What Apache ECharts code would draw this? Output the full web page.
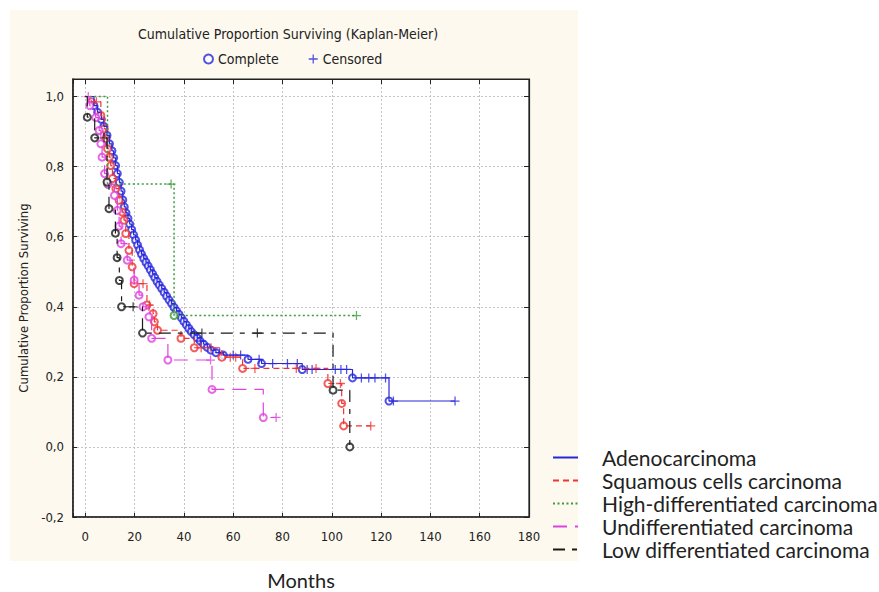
<!DOCTYPE html>
<html>
<head>
<meta charset="utf-8">
<script src="https://cdn.jsdelivr.net/npm/echarts@6/dist/echarts.min.js"></script>
<style>
  html, body { margin: 0; padding: 0; background: #fff; }
  #chart { width: 879px; height: 592px; }
</style>
</head>
<body>
<div id="chart"></div>
<script>
// groups (legend order)
const groupNames = [
  'Adenocarcinoma',
  'Squamous cells carcinoma',
  'High-differentiated carcinoma',
  'Undifferentiated carcinoma',
  'Low differentiated carcinoma'
]

// [months, proportion surviving] at each death ("Complete") and each censored case
const adenoEvents = [
  [3.5, 0.974], [5, 0.955], [6.5, 0.935], [7.5, 0.915], [8.8, 0.889], [9.8, 0.865],
  [10.8, 0.845], [11.5, 0.825], [12.3, 0.803], [13, 0.78], [13.8, 0.755], [14.5, 0.73],
  [15.2, 0.705], [15.8, 0.685], [16.5, 0.668], [17.3, 0.652], [18, 0.636], [18.8, 0.62],
  [19.6, 0.605], [20.4, 0.59], [21.2, 0.576], [22, 0.562], [22.8, 0.55], [23.7, 0.538],
  [24.6, 0.527], [25.5, 0.516], [26.4, 0.505], [27.3, 0.494], [28.2, 0.483], [29.1, 0.472],
  [30, 0.462], [31, 0.452], [32, 0.441], [33, 0.43], [34, 0.419], [35, 0.409],
  [36, 0.398], [37, 0.388], [38, 0.378], [39, 0.368], [40, 0.358], [41, 0.348],
  [42, 0.338], [43, 0.329], [44.2, 0.32], [45.4, 0.311], [46.6, 0.302], [48, 0.293],
  [49.5, 0.284], [51, 0.276], [53, 0.269], [56, 0.262], [66, 0.25], [71.5, 0.238],
  [88, 0.221], [108.4, 0.197], [123.2, 0.131]
]
const adenoCensored = [
  [47, 0.302], [54.5, 0.269], [60, 0.262], [63, 0.262], [70.5, 0.25], [76, 0.238],
  [82, 0.238], [86, 0.238], [90, 0.221], [92, 0.221], [101.4, 0.221], [103.7, 0.221],
  [106, 0.221], [112, 0.197], [115, 0.197], [117.5, 0.197], [121.8, 0.197], [125, 0.131],
  [150, 0.131]
]

const squamEvents = [
  [2.5, 0.985], [6.3, 0.946], [7.7, 0.908], [8.3, 0.88], [9, 0.851], [9.7, 0.827],
  [10.3, 0.803], [11, 0.766], [12.4, 0.737], [13.7, 0.704], [15, 0.67], [15.7, 0.647],
  [16.4, 0.609], [17.7, 0.561], [19, 0.514], [19.8, 0.466], [25, 0.405], [27.5, 0.38],
  [28, 0.357], [29.3, 0.333], [38.8, 0.31], [44.2, 0.283], [55.4, 0.256], [63.8, 0.224],
  [98.4, 0.181], [104, 0.124], [104.8, 0.06]
]
const squamCensored = [
  [4.5, 0.985], [23.4, 0.466], [26, 0.405], [47, 0.283], [51, 0.283], [58.8, 0.256],
  [61, 0.256], [68.8, 0.224], [85.6, 0.224], [93.6, 0.224], [103.5, 0.181], [115.8, 0.06]
]

const highEvents = [[9, 0.75], [36, 0.375]]
const highCensored = [[34.8, 0.75], [110, 0.375]]

const undiffEvents = [
  [1.8, 0.974], [4.2, 0.94], [5.6, 0.903], [6.3, 0.865], [6.8, 0.827], [7.8, 0.78],
  [9.2, 0.75], [11.8, 0.718], [13, 0.675], [13.7, 0.63], [14.5, 0.58], [17, 0.533],
  [19.8, 0.476], [21.8, 0.433], [23.4, 0.4], [25.8, 0.371], [26.9, 0.31], [33.5, 0.248],
  [51.4, 0.164], [72.2, 0.084]
]
const undiffCensored = [[1.2, 1.0], [50.8, 0.248], [77.4, 0.084]]

const lowEvents = [
  [0.8, 0.941], [3.8, 0.882], [8.8, 0.756], [9.6, 0.68], [12.2, 0.61], [12.9, 0.54],
  [13.8, 0.475], [14.7, 0.4], [23.2, 0.325], [100.5, 0.162], [107.3, 0.0]
]
const lowCensored = [[7.6, 0.882], [19.4, 0.4], [47.3, 0.325], [69.8, 0.325]]

const yTicks = ['-0,2', '0,0', '0,2', '0,4', '0,6', '0,8', '1,0']

const groups = [
  { events: adenoEvents, censored: adenoCensored, color: '#2626dc', dash: 'solid', width: 1.2 },
  { events: squamEvents, censored: squamCensored, color: '#f03434', dash: [6, 4], width: 1.2 },
  { events: highEvents, censored: highCensored, color: '#3c9c3c', dash: [2, 2.5], width: 1.5 },
  { events: undiffEvents, censored: undiffCensored, color: '#e042e0', dash: [14, 8], width: 1.2 },
  { events: lowEvents, censored: lowCensored, color: '#1a1a1a', dash: [12, 7, 5, 7], width: 1.2 }
]

const plusSymbol = 'path://M4.3,0H5.7V4.3H10V5.7H5.7V10H4.3V5.7H0V4.3H4.3Z'
const narrowFont = "'Liberation Sans Narrow', 'DejaVu Sans Condensed', sans-serif"
const legendFont = "Lato, 'Noto Sans', sans-serif"

// step curve: starts at 1 and runs to the last case
const buildCurve = (events, censored) => {
  const pts = [[0, 1]].concat(events)
  const last = censored[censored.length - 1]
  if (last && last[0] > pts[pts.length - 1][0]) pts.push(last)
  return pts
}

const series = []
groups.forEach((g, i) => {
  series.push({
    name: groupNames[i],
    type: 'line',
    step: 'end',
    data: buildCurve(g.events, g.censored),
    symbol: 'none',
    color: g.color,
    lineStyle: { color: g.color, width: g.width, type: g.dash },
    animation: false
  })
  series.push({
    name: 'Complete',
    type: 'scatter',
    data: g.events,
    symbol: 'emptyCircle',
    symbolSize: 7,
    itemStyle: { color: g.color, borderColor: g.color, borderWidth: 1.2 },
    animation: false
  })
  series.push({
    name: 'Censored',
    type: 'scatter',
    data: g.censored,
    symbol: plusSymbol,
    symbolSize: 9,
    itemStyle: { color: g.color },
    animation: false
  })
})

const fmtY = v => {
  const k = Math.round((v + 0.2) / 0.2)
  return Math.abs(v - (k * 0.2 - 0.2)) < 1e-6 ? yTicks[k] : ''
}
const fmtX = v => (v >= 0 && v % 20 === 0 ? String(v) : '')

const chart = echarts.init(document.getElementById('chart'), null, { renderer: 'svg' })

chart.setOption({
  backgroundColor: '#fff',
  animation: false,
  graphic: [
    { type: 'rect', z: -100, shape: { x: 10, y: 10, width: 568, height: 551 }, style: { fill: '#fdf9ee' } }
  ],
  title: {
    text: 'Cumulative Proportion Surviving (Kaplan-Meier)',
    left: 283,
    top: 22,
    textAlign: 'center',
    textStyle: { fontFamily: narrowFont, fontSize: 14, fontWeight: 'normal', color: '#222' }
  },
  legend: [
    {
      data: ['Complete', 'Censored'],
      left: 198,
      top: 47,
      itemWidth: 9,
      itemHeight: 9,
      itemGap: 30,
      selectedMode: false,
      textStyle: { fontFamily: narrowFont, fontSize: 14, color: '#222' }
    },
    {
      data: groupNames,
      orient: 'vertical',
      left: 547,
      top: 442,
      itemWidth: 25,
      itemHeight: 14,
      itemGap: 2,
      selectedMode: false,
      itemStyle: { opacity: 0 },
      textStyle: { fontFamily: legendFont, fontSize: 21, lineHeight: 20, color: '#222', padding: [0, 0, 0, 19] }
    }
  ],
  grid: {
    left: 73, top: 79, width: 456, height: 438,
    outerBoundsMode: 'none', containLabel: false,
    show: true, backgroundColor: '#fff', borderColor: '#222', borderWidth: 1.2
  },
  xAxis: [
    {
      type: 'value', min: -5, max: 180, splitNumber: 9, minInterval: 20, maxInterval: 20,
      position: 'bottom',
      axisLine: { onZero: false, lineStyle: { color: '#222', width: 1.5 } },
      axisTick: { inside: true, length: 4, lineStyle: { color: '#222' } },
      axisLabel: { formatter: fmtX, fontFamily: narrowFont, fontSize: 13, color: '#222', margin: 13 },
      splitLine: { show: true, lineStyle: { color: '#c4c4c4', type: [2, 2] } },
      name: 'Months', nameLocation: 'middle', nameGap: 54,
      nameTextStyle: { fontFamily: legendFont, fontSize: 20, lineHeight: 18, color: '#222' }
    },
    {
      type: 'value', min: -5, max: 180, splitNumber: 9, minInterval: 20, maxInterval: 20,
      position: 'top',
      axisLine: { onZero: false, lineStyle: { color: '#222', width: 1.2 } },
      axisTick: { inside: true, length: 5, lineStyle: { color: '#222' } },
      axisLabel: { show: false },
      splitLine: { show: false }
    }
  ],
  yAxis: [
    {
      type: 'value', min: -0.2, max: 1.05, interval: 0.2,
      position: 'left',
      axisLine: { show: true, onZero: false, lineStyle: { color: '#222', width: 1.5 } },
      axisTick: { show: true, inside: true, length: 4, lineStyle: { color: '#222' } },
      axisLabel: { formatter: fmtY, fontFamily: narrowFont, fontSize: 13, color: '#222', margin: 9 },
      splitLine: { show: true, lineStyle: { color: '#c4c4c4', type: [2, 2] } },
      name: 'Cumulative Proportion Surviving', nameLocation: 'middle', nameGap: 36,
      nameTextStyle: { fontFamily: narrowFont, fontSize: 13, color: '#222' }
    },
    {
      type: 'value', min: -0.2, max: 1.05, interval: 0.2,
      position: 'right',
      axisLine: { show: true, onZero: false, lineStyle: { color: '#222', width: 1.2 } },
      axisTick: { show: true, inside: true, length: 5, lineStyle: { color: '#222' } },
      axisLabel: { show: false },
      splitLine: { show: false }
    }
  ],
  series
})
</script>
</body>
</html>
